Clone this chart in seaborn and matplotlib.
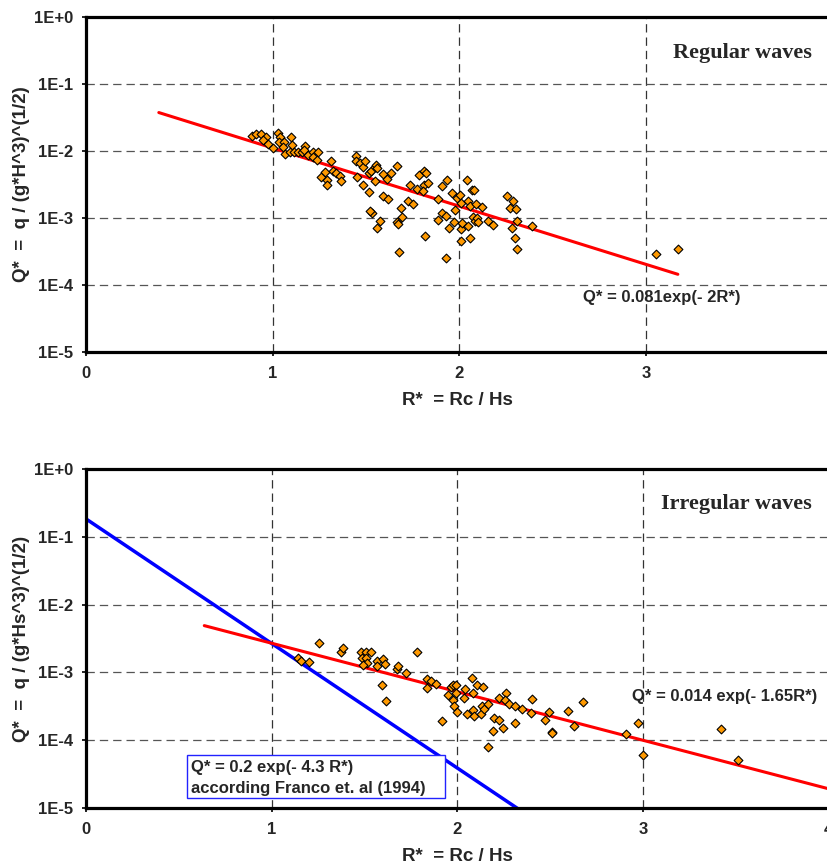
import matplotlib
matplotlib.use("Agg")
import matplotlib.pyplot as plt
import matplotlib.patches as mpatches
import seaborn as sns
import pandas as pd

# ---------------- data ----------------
reg_R = [0.891, 0.911, 0.937, 0.962, 0.946, 0.977, 1.000, 1.030, 1.039, 1.036,
         1.061, 1.053, 1.068, 1.098, 1.103, 1.093, 1.114, 1.134, 1.155, 1.175,
         1.168, 1.191, 1.218, 1.214, 1.244, 1.239, 1.257, 1.280, 1.289, 1.293,
         1.310, 1.325, 1.339, 1.360, 1.364, 1.446, 1.444, 1.468, 1.482, 1.496,
         1.450, 1.485, 1.516, 1.525, 1.516, 1.548, 1.553, 1.560, 1.548, 1.589,
         1.610, 1.635, 1.668, 1.593, 1.619, 1.530, 1.520, 1.575, 1.557, 1.664,
         1.691, 1.673, 1.687, 1.676, 1.735, 1.726, 1.753, 1.771, 1.785, 1.810,
         1.821, 1.810, 1.834, 1.807, 1.816, 1.887, 1.887, 1.905, 1.905, 1.932,
         1.928, 1.946, 1.971, 1.962, 1.976, 1.989, 2.003, 2.007, 2.007, 2.012,
         2.009, 2.039, 2.048, 2.057, 2.066, 2.078, 2.057, 2.048, 2.071, 2.083,
         2.093, 2.102, 2.089, 2.119, 2.155, 2.182, 2.253, 2.289, 2.271, 2.303,
         2.310, 2.280, 2.298, 2.307, 2.391, 1.926, 3.053, 3.173]
reg_Q = [0.0168, 0.0177, 0.0177, 0.0162, 0.0144, 0.0126, 0.0108, 0.0182, 0.0162, 0.0136,
         0.0133, 0.0115, 0.0089, 0.0162, 0.0122, 0.0097, 0.0095, 0.0097, 0.0095, 0.0119,
         0.0102, 0.0086, 0.0097, 0.0081, 0.0095, 0.0073, 0.0041, 0.0048, 0.0037, 0.0031,
         0.0070, 0.0049, 0.0046, 0.0042, 0.0035, 0.0084, 0.0071, 0.0065, 0.0058, 0.0069,
         0.0041, 0.0031, 0.0046, 0.0050, 0.0024, 0.0058, 0.0061, 0.0055, 0.0035, 0.0045,
         0.0038, 0.0046, 0.0060, 0.0021, 0.0019, 0.00116, 0.00125, 0.00089, 0.00071, 0.00087,
         0.00101, 0.00080, 0.00141, 0.00031, 0.0031, 0.0018, 0.0016, 0.0027, 0.0044, 0.0050,
         0.0047, 0.0031, 0.0033, 0.0025, 0.00054, 0.0019, 0.00092, 0.00116, 0.0030, 0.0036,
         0.00106, 0.00071, 0.00087, 0.0023, 0.00130, 0.0020, 0.0022, 0.00164, 0.00067, 0.00082,
         0.00045, 0.0037, 0.0018, 0.00151, 0.0026, 0.0026, 0.00049, 0.00076, 0.00104, 0.00090,
         0.00098, 0.00085, 0.00160, 0.00143, 0.00090, 0.00078, 0.0021, 0.0018, 0.00138, 0.00133,
         0.00090, 0.00069, 0.00049, 0.00034, 0.00076, 0.00025, 0.00029, 0.00034]

irr_R = [1.140, 1.156, 1.203, 1.257, 1.371, 1.386, 1.481, 1.508, 1.537, 1.484,
         1.506, 1.511, 1.490, 1.565, 1.565, 1.598, 1.611, 1.673, 1.679, 1.723,
         1.781, 1.596, 1.616, 1.834, 1.834, 1.858, 1.883, 1.919, 1.951, 1.963,
         1.974, 1.990, 1.978, 1.982, 2.000, 1.992, 2.041, 2.037, 2.077, 2.086,
         2.108, 2.136, 2.050, 2.082, 2.089, 2.131, 2.127, 2.145, 2.163, 2.224,
         2.262, 2.256, 2.280, 2.310, 2.199, 2.226, 2.193, 2.244, 2.310, 2.163,
         2.346, 2.396, 2.400, 2.472, 2.495, 2.508, 2.508, 2.594, 2.628, 2.675,
         2.908, 2.971, 3.001, 3.418, 3.509]
irr_Q = [0.00165, 0.00147, 0.00141, 0.0027, 0.0020, 0.0023, 0.0020, 0.0020, 0.0020, 0.00161,
         0.00165, 0.00136, 0.00128, 0.00149, 0.00126, 0.00156, 0.00131, 0.00111, 0.00126, 0.00097,
         0.0020, 0.00065, 0.00038, 0.00079, 0.00058, 0.00075, 0.00067, 0.00019, 0.00046, 0.00060,
         0.00064, 0.00065, 0.00039, 0.00032, 0.00026, 0.00049, 0.00057, 0.00042, 0.00082, 0.00049,
         0.00065, 0.00060, 0.00024, 0.00028, 0.00023, 0.00032, 0.00024, 0.00029, 0.00034, 0.00042,
         0.00050, 0.00039, 0.00034, 0.00032, 0.00021, 0.00020, 0.000136, 0.000149, 0.000181, 0.0000798,
         0.00029, 0.00025, 0.00040, 0.00020, 0.00026, 0.000133, 0.000126, 0.00027, 0.000163, 0.00037,
         0.000121, 0.000177, 0.000060, 0.000146, 0.0000507]

# trend lines (end points)
reg_fit_R = [0.39, 3.17]
reg_fit_Q = [0.0371, 0.000143]
irr_fit_R = [0.637, 4.0]
irr_fit_Q = [0.0049, 0.0000190]
franco_R = [0.0, 2.33]
franco_Q = [0.185, 0.0000095]

top_x_ticks = [0, 1, 2, 3]
top_x_ticklabels = ["0", "1", "2", "3"]
bot_x_ticks = [0, 1, 2, 3, 4]
bot_x_ticklabels = ["0", "1", "2", "3", "4"]
y_ticks = [1e0, 1e-1, 1e-2, 1e-3, 1e-4, 1e-5]
y_ticklabels = ["1E+0", "1E-1", "1E-2", "1E-3", "1E-4", "1E-5"]

# ---------------- style ----------------
sns.set_style("white")
plt.rcParams["font.family"] = ["Liberation Sans", "DejaVu Sans"]
plt.rcParams["font.weight"] = "bold"
plt.rcParams["lines.scale_dashes"] = False

W, H = 827, 866
fig = plt.figure(figsize=(W / 100, H / 100), dpi=100)
fig.patch.set_facecolor("white")

ax1 = fig.add_axes([86 / W, 1 - 351.7 / H, 4 * 186.7 / W, (351.7 - 16.7) / H])
ax2 = fig.add_axes([86 / W, 1 - 807.7 / H, 4 * 185.7 / W, (807.7 - 469.3) / H])

ORANGE = "#FF9900"


def style_axes(ax, ylabel, xt, xtl):
    ax.set_yscale("log")
    ax.set_xlim(0, 4)
    ax.set_ylim(1e-5, 1e0)
    ax.set_xticks(xt)
    ax.set_xticklabels(xtl)
    ax.set_yticks(y_ticks)
    ax.set_yticklabels(y_ticklabels)
    ax.minorticks_off()
    ax.tick_params(axis="both", which="major", labelsize=12, length=3, width=1.2,
                   direction="out", color="black", left=True, bottom=True)
    ax.tick_params(axis="x", pad=7)
    ax.tick_params(axis="y", pad=6)
    for lab in ax.get_xticklabels() + ax.get_yticklabels():
        lab.set_fontweight("bold")
    for side in ["left", "top", "bottom"]:
        ax.spines[side].set_visible(True)
        ax.spines[side].set_linewidth(2.3)
        ax.spines[side].set_color("black")
    ax.spines["right"].set_visible(False)
    for xv in [1, 2, 3]:
        ax.axvline(xv, color="#333333", lw=0.9, ls=(0, (6, 3.6)), zorder=0.5)
    for yv in [1e-1, 1e-2, 1e-3, 1e-4]:
        ax.axhline(yv, color="#555555", lw=0.9, ls=(0, (6, 3.6)), zorder=0.5)
    ax.set_xlabel("R*  = Rc / Hs", fontsize=13.5, fontweight="bold")
    ax.set_ylabel(ylabel, fontsize=13.5, fontweight="bold")
    ax.xaxis.label.set_verticalalignment("center")
    ax.yaxis.label.set_verticalalignment("center")
    ax.xaxis.set_label_coords(371 / (ax.get_position().width * W), -49 / (ax.get_position().height * H))
    ax.yaxis.set_label_coords(-64 / (ax.get_position().width * W), 0.5)


# ---------- top panel ----------
df_reg = pd.DataFrame({"R": reg_R, "Q": reg_Q})
df_reg_fit = pd.DataFrame({"R": reg_fit_R, "Q": reg_fit_Q})
sns.lineplot(data=df_reg_fit, x="R", y="Q", ax=ax1, color="#FF0000", linewidth=2.2, zorder=2)
sns.scatterplot(data=df_reg, x="R", y="Q", ax=ax1, marker="D", s=20, color=ORANGE,
                edgecolor="black", linewidth=0.8, zorder=3)
style_axes(ax1, "Q*  =  q / (g*H^3)^(1/2)", top_x_ticks, top_x_ticklabels)

# ---------- bottom panel ----------
df_irr = pd.DataFrame({"R": irr_R, "Q": irr_Q})
df_irr_fit = pd.DataFrame({"R": irr_fit_R, "Q": irr_fit_Q})
df_franco = pd.DataFrame({"R": franco_R, "Q": franco_Q})
sns.lineplot(data=df_franco, x="R", y="Q", ax=ax2, color="#0000FF", linewidth=2.5, zorder=2)
sns.lineplot(data=df_irr_fit, x="R", y="Q", ax=ax2, color="#FF0000", linewidth=2.2, zorder=2)
sns.scatterplot(data=df_irr, x="R", y="Q", ax=ax2, marker="D", s=20, color=ORANGE,
                edgecolor="black", linewidth=0.8, zorder=3)
style_axes(ax2, "Q*  =  q / (g*Hs^3)^(1/2)", bot_x_ticks, bot_x_ticklabels)

# ---------- annotations ----------
def ftext(xpx, ypx, s, **kw):
    fig.text(xpx / W, 1 - ypx / H, s, ha="left", va="center", **kw)

ftext(673, 53, "Regular waves", fontsize=16, fontweight="bold",
      family=["Liberation Serif", "DejaVu Serif"])
ftext(583, 298, "Q* = 0.081exp(- 2R*)", fontsize=12, fontweight="bold")

ftext(661, 504, "Irregular waves", fontsize=16, fontweight="bold",
      family=["Liberation Serif", "DejaVu Serif"])
ftext(632, 697, "Q* = 0.014 exp(- 1.65R*)", fontsize=12, fontweight="bold")

box = mpatches.Rectangle((187 / W, 1 - 798 / H), (445 - 187) / W, (798 - 755) / H,
                         transform=fig.transFigure, facecolor="white",
                         edgecolor="#2222FF", linewidth=1.0, zorder=5)
fig.patches.append(box)
ftext(191, 767.5, "Q* = 0.2 exp(- 4.3 R*)", fontsize=12, fontweight="bold", zorder=6)
ftext(191, 788, "according Franco et. al (1994)", fontsize=12, fontweight="bold", zorder=6)

for ax in (ax1, ax2):
    leg = ax.get_legend()
    if leg is not None:
        leg.remove()

fig.savefig("out.png", dpi=100)
